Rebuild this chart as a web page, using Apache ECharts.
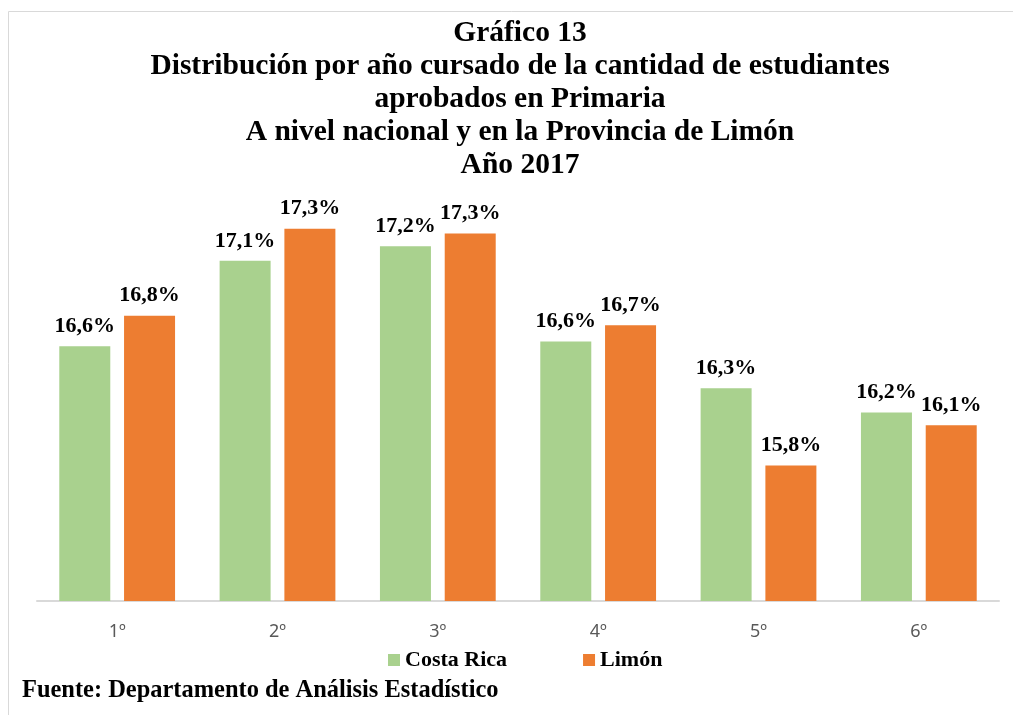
<!DOCTYPE html>
<html>
<head>
<meta charset="utf-8">
<script src="https://cdn.jsdelivr.net/npm/echarts@6/dist/echarts.min.js"></script>
<style>
  html, body { margin: 0; padding: 0; background: #fff; }
  #chart { width: 1013px; height: 715px; }
</style>
</head>
<body>
<div id="chart"></div>
<script>
const categories = ['1º', '2º', '3º', '4º', '5º', '6º']
const costaRica = [16.58, 17.11, 17.20, 16.61, 16.32, 16.17]
const limon = [16.77, 17.31, 17.28, 16.71, 15.84, 16.09]
const titleLines = [
  'Gráfico 13',
  'Distribución por año cursado de la cantidad de estudiantes',
  'aprobados en Primaria',
  'A nivel nacional y en la Provincia de Limón',
  'Año 2017'
]
const sourceText = 'Fuente: Departamento de Análisis Estadístico'

const serif = '"Liberation Serif", "Times New Roman", serif'

// etiqueta con coma decimal
function pct(p) {
  return p.value.toFixed(1).replace('.', ',') + '%'
}

const chart = echarts.init(document.getElementById('chart'))
const option = {
  animation: false,
  grid: { left: 37, right: 14, top: 198, bottom: 114 },
  legend: {
    data: ['Costa Rica', 'Limón'],
    left: 383,
    top: 644,
    itemWidth: 12,
    itemHeight: 12,
    itemGap: 76,
    icon: 'rect',
    textStyle: { fontFamily: serif, fontWeight: 'bold', fontSize: 22, color: '#000' }
  },
  xAxis: {
    type: 'category',
    data: categories,
    axisLine: { lineStyle: { color: '#d9d9d9', width: 2 } },
    axisTick: { show: false },
    axisLabel: { color: '#595959', fontSize: 18, fontFamily: '"Noto Sans", sans-serif', margin: 22 }
  },
  yAxis: {
    type: 'value',
    min: 15,
    max: 17.5,
    show: false,
    splitLine: { show: false }
  },
  series: [
    {
      name: 'Costa Rica',
      type: 'bar',
      data: costaRica,
      barWidth: 51,
      barGap: '27%',
      itemStyle: { color: '#A9D18E' },
      label: { show: true, position: 'top', distance: 9, formatter: pct, fontFamily: serif, fontWeight: 'bold', fontSize: 22, color: '#000' }
    },
    {
      name: 'Limón',
      type: 'bar',
      data: limon,
      barWidth: 51,
      itemStyle: { color: '#ED7D31' },
      label: { show: true, position: 'top', distance: 9, formatter: pct, fontFamily: serif, fontWeight: 'bold', fontSize: 22, color: '#000' }
    }
  ],
  graphic: [
    {
      type: 'rect',
      shape: { x: 8.5, y: 11.5, width: 1100, height: 800 },
      style: { fill: 'none', stroke: '#d9d9d9', lineWidth: 1 },
      silent: true
    },
    {
      type: 'text',
      x: 520,
      y: 17,
      style: {
        text: titleLines.join('\n'),
        textAlign: 'center',
        textVerticalAlign: 'top',
        font: 'bold 29.5px ' + serif,
        lineHeight: 33,
        fill: '#000'
      }
    },
    {
      type: 'text',
      x: 22,
      y: 690,
      scaleX: 0.94,
      style: {
        text: sourceText,
        textVerticalAlign: 'middle',
        font: 'bold 26px ' + serif,
        fill: '#000'
      }
    }
  ]
}
chart.setOption(option)
</script>
</body>
</html>
